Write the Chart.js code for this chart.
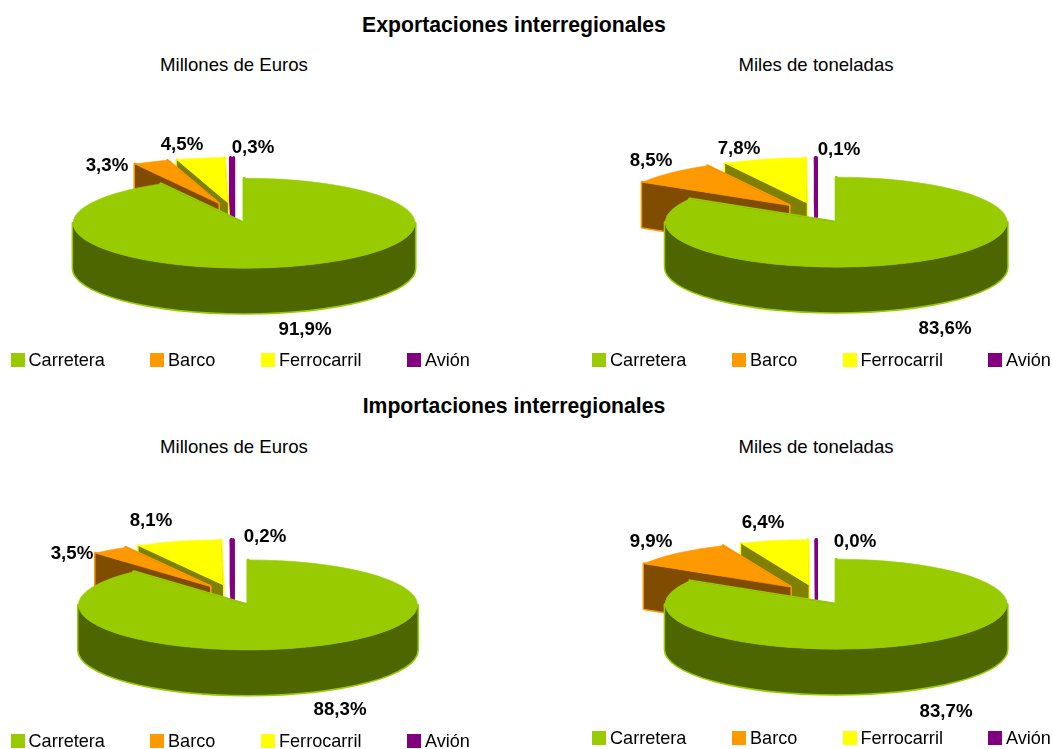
<!DOCTYPE html>
<html lang="es"><head><meta charset="utf-8">
<style>
html,body{margin:0;padding:0;background:#fff;width:1053px;height:749px;overflow:hidden;font-family:"Liberation Sans",Arial,sans-serif;color:#000}
canvas{position:absolute}
.t{position:absolute;white-space:nowrap;transform:translateX(-50%);line-height:20px}
.main{font-weight:bold;font-size:21.2px}
.sub{font-size:18.6px}
.li{position:absolute;white-space:nowrap;font-size:18.1px;line-height:20px}
.sw{position:absolute;width:14px;height:14px}
</style>
<script src="https://cdn.jsdelivr.net/npm/chart.js@4"></script>
</head><body>
<script>
const categories = ["Carretera","Barco","Ferrocarril","Avión"];
const expEuros = [91.9,3.3,4.5,0.3];
const expTons  = [83.6,8.5,7.8,0.1];
const impEuros = [88.3,3.5,8.1,0.2];
const impTons  = [83.7,9.9,6.4,0.04];
const topColors  = ["#99CC00","#FF9900","#FFFF00","#800080"];
const wallColors = ["#4D6600","#804D00","#808000","#800080"];
const mainTitles = [["Exportaciones interregionales",514,15],["Importaciones interregionales",514,396]];

const panels = [
 {values:expEuros,sub:"Millones de Euros",subX:234,subY:55,rect:[0,40,530,340],c:[234,213],rx:171,
  labels:[[305,330],[107,166],[182,145],[253,148]],legY:349.5,legX:[10.5,150,261,407]},
 {values:expTons,sub:"Miles de toneladas",subX:816,subY:55,rect:[530,40,523,340],c:[816.5,213],rx:171,
  labels:[[945,329],[651,161],[739,149],[839,150]],legY:349.5,legX:[592,732,842.5,988]},
 {values:impEuros,sub:"Millones de Euros",subX:234,subY:437,rect:[0,420,530,329],c:[233.5,595],rx:169.5,
  labels:[[340,710],[72,554],[151,521],[265,537]],legY:730.5,legX:[10.5,150,261,407]},
 {values:impTons,sub:"Miles de toneladas",subX:816,subY:437,rect:[530,420,523,329],c:[816.5,595],rx:171,
  labels:[[946,712],[651,542],[763,523],[855,542]],legY:728,legX:[592,732,842.5,988]}
];
const EXPLODE = 40, DEPTH = 45, RY = 45;

function addText(cls,txt,x,y){const d=document.createElement('div');d.className=cls;d.textContent=txt;d.style.left=x+'px';d.style.top=y+'px';document.body.appendChild(d);}
mainTitles.forEach(m=>addText('t main',m[0],m[1],m[2]));

const pie3d = {
 id:'pie3d',
 beforeDatasetsDraw(chart,args,opts){
  const ctx=chart.ctx, arcs=chart.getDatasetMeta(0).data, p=opts.panel;
  const k=RY/p.rx;
  ctx.save();
  for(let i=arcs.length-1;i>=0;i--){
   const arc=arcs[i], mid=(arc.startAngle+arc.endAngle)/2;
   const cx=p.c[0]-p.rect[0]+EXPLODE*Math.cos(mid);
   const cy=p.c[1]-p.rect[1]+EXPLODE*k*Math.sin(mid);
   const pt=a=>[cx+p.rx*Math.cos(a),cy+RY*Math.sin(a)];
   const walls=[];
   [arc.startAngle,arc.endAngle].forEach(a=>{const q=pt(a),w=new Path2D();
    w.moveTo(cx,cy);w.lineTo(q[0],q[1]);w.lineTo(q[0],q[1]+DEPTH);w.lineTo(cx,cy+DEPTH);w.closePath();walls.push(w);});
   const a0=Math.max(arc.startAngle,0), a1=Math.min(arc.endAngle,Math.PI);
   if(a1>a0){
    const band=new Path2D();
    band.ellipse(cx,cy,p.rx,RY,0,a0,a1);
    band.ellipse(cx,cy+DEPTH,p.rx,RY,0,a1,a0,true);
    band.closePath();walls.push(band);
   }
   ctx.setTransform(1,0,0,1,0,0);
   ctx.lineJoin='round';
   ctx.strokeStyle=topColors[i];ctx.lineWidth=3;
   walls.forEach(w=>ctx.stroke(w));
   ctx.fillStyle=wallColors[i];
   walls.forEach(w=>ctx.fill(w));
   ctx.translate(cx,cy);ctx.scale(1,k);ctx.translate(-arc.x,-arc.y);
   arc.draw(ctx);
  }
  ctx.restore();
  return false;
 },
 afterDraw(chart,args,opts){
  const ctx=chart.ctx,p=opts.panel;
  ctx.save();
  ctx.font='bold 18.7px "Liberation Sans", Arial, sans-serif';
  ctx.fillStyle='#000';ctx.textAlign='center';ctx.textBaseline='middle';
  p.values.forEach((v,i)=>ctx.fillText(v.toFixed(1).replace('.',',')+'%',p.labels[i][0]-p.rect[0],p.labels[i][1]-p.rect[1]));
  ctx.restore();
 }
};

panels.forEach(p=>{
 addText('t sub',p.sub,p.subX,p.subY);
 const cv=document.createElement('canvas');
 cv.width=p.rect[2];cv.height=p.rect[3];
 cv.style.left=p.rect[0]+'px';cv.style.top=p.rect[1]+'px';
 cv.style.width=p.rect[2]+'px';cv.style.height=p.rect[3]+'px';
 document.body.appendChild(cv);
 new Chart(cv,{type:'pie',plugins:[pie3d],data:{labels:categories,datasets:[{data:p.values,backgroundColor:topColors,borderColor:topColors,borderWidth:[1,1,1,3],clip:false}]},
  options:{responsive:false,animation:false,devicePixelRatio:1,radius:p.rx,
   layout:{padding:0},plugins:{legend:{display:false},tooltip:{enabled:false},pie3d:{panel:p}}}});
 categories.forEach((c,i)=>{
  const s=document.createElement('div');s.className='sw';s.style.left=p.legX[i]+'px';s.style.top=(p.legY+3)+'px';s.style.background=topColors[i];document.body.appendChild(s);
  addText('li',c,p.legX[i]+18,p.legY);
 });
});
</script>
</body></html>
